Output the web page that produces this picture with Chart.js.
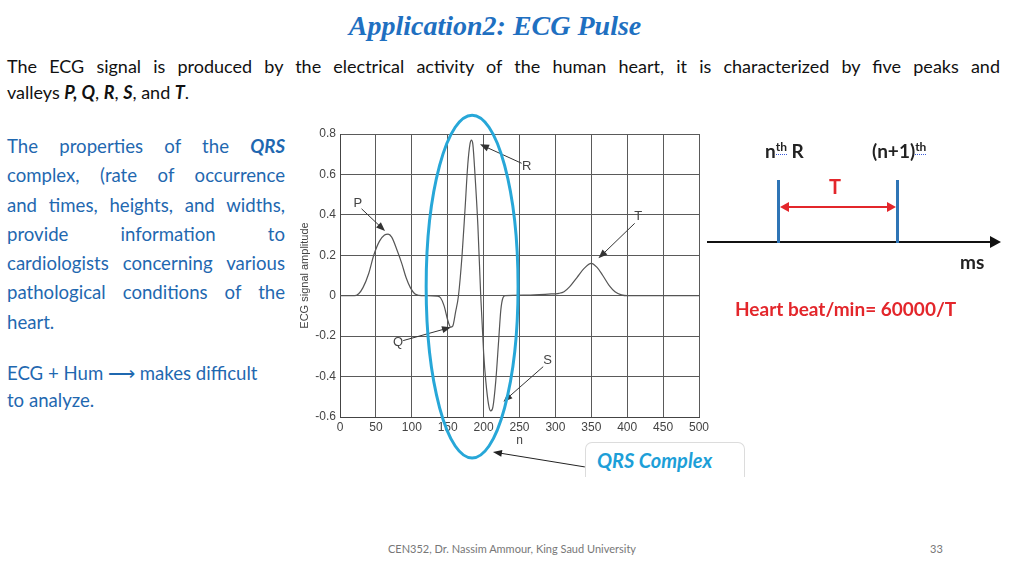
<!DOCTYPE html>
<html>
<head>
<meta charset="utf-8">
<script src="https://cdn.jsdelivr.net/npm/chart.js@4"></script>
<style>
  body { margin: 0; background: #fff; }
  #slide { position: relative; width: 1024px; height: 575px; overflow: hidden; font-family: Lato, "Open Sans", sans-serif; }
  .abs { position: absolute; }
  #title { left: 0; width: 990px; top: 10px; text-align: center; font-family: "Liberation Serif", serif; font-style: italic; font-weight: bold; font-size: 28px; color: #1f70c1; }
  .intro { left: 7px; width: 993px; font-size: 18px; color: #111; line-height: 26px; }
  .jl { text-align: justify; text-align-last: justify; }
  #props { left: 7px; top: 132px; width: 278px; font-size: 18.6px; line-height: 29.3px; color: #1f68b0; }
  #hum { left: 7px; top: 360px; width: 300px; font-size: 18.6px; line-height: 27px; color: #1f68b0; }
  #qrsBox { left: 585px; top: 442px; width: 158px; height: 34px; border: 1px solid #dcdcdc; border-bottom: none; border-radius: 7px 7px 0 0; background: #fff; }
  #qrsText { left: 597px; top: 448px; font-size: 20px; font-weight: bold; font-style: italic; color: #1d9fd8; }
  .dlab { font-size: 19px; font-weight: bold; color: #222; }
  .dlab sup { font-size: 12px; border-bottom: 1px dotted #3b5bd6; }
  #footer { left: 0; width: 1024px; top: 542px; text-align: center; font-size: 11px; color: #777; }
  #pageNo { left: 930px; top: 542px; font-size: 11px; color: #777; }
</style>
</head>
<body>
<div id="slide">
  <div id="title" class="abs">Application2: ECG Pulse</div>
  <div class="abs intro jl" style="top:53px">The ECG signal is produced by the electrical activity of the human heart, it is characterized by five peaks and</div>
  <div class="abs intro" style="top:79px">valleys <b><i>P, Q</i></b>, <b><i>R</i></b>, <b><i>S</i></b>, and <b><i>T</i></b>.</div>

  <div id="props" class="abs">
    <div class="jl">The properties of the <b><i>QRS</i></b></div>
    <div class="jl">complex, (rate of occurrence</div>
    <div class="jl">and times, heights, and widths,</div>
    <div class="jl">provide information to</div>
    <div class="jl">cardiologists concerning various</div>
    <div class="jl">pathological conditions of the</div>
    <div>heart.</div>
  </div>
  <div id="hum" class="abs">ECG + Hum &#x27F6; makes difficult<br>to analyze.</div>

  <canvas id="ecgChart" class="abs" width="430" height="390" style="left:290px;top:100px"></canvas>

  <div id="qrsBox" class="abs"></div>
  <div id="qrsText" class="abs">QRS Complex</div>

  <!-- R-R interval diagram -->
  <div class="abs" style="left:707px;top:241px;width:287px;height:2px;background:#111"></div>
  <div class="abs" style="left:990px;top:236px;width:0;height:0;border-top:6px solid transparent;border-bottom:6px solid transparent;border-left:11px solid #111"></div>
  <div class="abs" style="left:777px;top:180px;width:3px;height:63px;background:#2e75b6"></div>
  <div class="abs" style="left:896px;top:180px;width:3px;height:63px;background:#2e75b6"></div>
  <div class="abs" style="left:786px;top:206px;width:104px;height:2px;background:#e3262b"></div>
  <div class="abs" style="left:780px;top:202px;width:0;height:0;border-top:5px solid transparent;border-bottom:5px solid transparent;border-right:9px solid #e3262b"></div>
  <div class="abs" style="left:887px;top:202px;width:0;height:0;border-top:5px solid transparent;border-bottom:5px solid transparent;border-left:9px solid #e3262b"></div>
  <div class="abs" style="left:829px;top:174px;font-size:20px;font-weight:bold;color:#e3262b">T</div>
  <div class="abs dlab" style="left:765px;top:139px">n<sup>th</sup> R</div>
  <div class="abs dlab" style="left:872px;top:139px">(n+1)<sup>th</sup></div>
  <div class="abs dlab" style="left:960px;top:250px">ms</div>
  <div class="abs" style="left:735px;top:297px;font-size:19px;font-weight:bold;color:#e3262b">Heart beat/min= 60000/T</div>

  <div id="footer" class="abs">CEN352, Dr. Nassim Ammour, King Saud University</div>
  <div id="pageNo" class="abs">33</div>
</div>

<script>
// ECG pulse samples (sample index n -> amplitude)
const nSamples = [0, 20, 26, 32, 40, 47, 55, 62, 67, 72, 80, 86, 92, 98, 104, 110, 120,
  135, 140, 145, 150, 154, 157, 161, 165, 170, 174, 178, 181, 183, 185, 188, 192, 196,
  200, 203, 207, 210, 213, 217, 221, 224, 227, 230, 260, 290, 305, 312, 320, 330, 340,
  350, 358, 366, 375, 383, 392, 400, 500];
const ecgAmplitude = [0, 0, 0.01, 0.04, 0.11, 0.2, 0.27, 0.3, 0.305, 0.29, 0.22, 0.16, 0.09, 0.04, 0.01, 0.002, 0,
  -0.002, -0.01, -0.05, -0.12, -0.155, -0.15, -0.08, 0, 0.2, 0.42, 0.65, 0.75, 0.77, 0.75, 0.6, 0.35, 0,
  -0.28, -0.42, -0.54, -0.57, -0.55, -0.42, -0.22, -0.07, -0.01, 0, 0.003, 0.008, 0.012, 0.02, 0.045, 0.09, 0.135,
  0.16, 0.14, 0.1, 0.05, 0.02, 0.004, 0, 0];

const xTicks = { min: 0, max: 500, step: 50 };
const yTicks = { min: -0.6, max: 0.8, step: 0.2 };

// wave labels: text, label anchor, arrow tail and tip (in data units)
const waveLabels = ['P', 'Q', 'R', 'S', 'T'];
const labelAt = [[25, 0.457], [81, -0.23], [260, 0.638], [289, -0.318], [415.5, 0.39]];
const arrowFrom = [[30, 0.43], [88, -0.222], [253, 0.655], [283, -0.351], [410.4, 0.358]];
const arrowTo = [[62.7, 0.32], [154.6, -0.156], [195, 0.749], [227.6, -0.524], [360, 0.185]];

// QRS highlight ellipse (center, radii) and pointer to the caption box
const qrsCenter = [184, 0.045];
const qrsRadius = [64, 0.848];
const qrsPointer = [[341, -0.847], [213, -0.773]];

function drawArrow(ctx, x1, y1, x2, y2, color) {
    const ang = Math.atan2(y2 - y1, x2 - x1);
    const len = 9, half = 3.5;
    ctx.save();
    ctx.strokeStyle = color;
    ctx.fillStyle = color;
    ctx.lineWidth = 1;
    ctx.beginPath();
    ctx.moveTo(x1, y1);
    ctx.lineTo(x2 - Math.cos(ang) * len * 0.8, y2 - Math.sin(ang) * len * 0.8);
    ctx.stroke();
    ctx.beginPath();
    ctx.moveTo(x2, y2);
    ctx.lineTo(x2 - Math.cos(ang) * len - Math.sin(ang) * half, y2 - Math.sin(ang) * len + Math.cos(ang) * half);
    ctx.lineTo(x2 - Math.cos(ang) * len + Math.sin(ang) * half, y2 - Math.sin(ang) * len - Math.cos(ang) * half);
    ctx.closePath();
    ctx.fill();
    ctx.restore();
}

const annotationsPlugin = {
    id: 'ecgAnnotations',
    afterDraw(chart) {
        const ctx = chart.ctx;
        const xs = chart.scales.x, ys = chart.scales.y;
        const px = v => xs.getPixelForValue(v);
        const py = v => ys.getPixelForValue(v);

        ctx.save();
        ctx.font = '13px "Liberation Sans", Arial, sans-serif';
        ctx.fillStyle = '#444';
        ctx.textAlign = 'center';
        ctx.textBaseline = 'middle';
        waveLabels.forEach((t, i) => {
            ctx.fillText(t, px(labelAt[i][0]), py(labelAt[i][1]));
            drawArrow(ctx, px(arrowFrom[i][0]), py(arrowFrom[i][1]), px(arrowTo[i][0]), py(arrowTo[i][1]), '#333');
        });

        // QRS ellipse
        const cx = px(qrsCenter[0]), cy = py(qrsCenter[1]);
        const rx = px(qrsCenter[0] + qrsRadius[0]) - cx;
        const ry = cy - py(qrsCenter[1] + qrsRadius[1]);
        ctx.strokeStyle = '#27a7d8';
        ctx.lineWidth = 3;
        ctx.beginPath();
        ctx.ellipse(cx, cy, rx, ry, 0, 0, Math.PI * 2);
        ctx.stroke();

        drawArrow(ctx, px(qrsPointer[0][0]), py(qrsPointer[0][1]), px(qrsPointer[1][0]), py(qrsPointer[1][1]), '#222');
        ctx.restore();
    }
};

const tickFont = { family: '"Liberation Sans", Arial, sans-serif', size: 12 };

new Chart(document.getElementById('ecgChart'), {
    type: 'line',
    data: {
        datasets: [{
            data: nSamples.map((n, i) => ({ x: n, y: ecgAmplitude[i] })),
            borderColor: '#555',
            borderWidth: 1.2,
            pointRadius: 0,
            cubicInterpolationMode: 'monotone',
            fill: false
        }]
    },
    options: {
        responsive: false,
        animation: false,
        devicePixelRatio: 1,
        layout: { padding: { top: 34, right: 21, bottom: 35, left: 0 } },
        plugins: { legend: { display: false }, tooltip: { enabled: false } },
        scales: {
            x: {
                type: 'linear',
                min: xTicks.min, max: xTicks.max,
                afterFit: s => { s.height = 38; },
                ticks: { stepSize: xTicks.step, color: '#444', font: tickFont, padding: 3, maxRotation: 0 },
                grid: { color: '#5a5a5a', lineWidth: 1, drawTicks: false },
                border: { color: '#444' },
                title: { display: true, text: 'n', color: '#444', font: tickFont, padding: { top: 0, bottom: 7 } }
            },
            y: {
                min: yTicks.min, max: yTicks.max,
                afterFit: s => { s.width = 50; },
                ticks: { stepSize: yTicks.step, color: '#444', font: tickFont, padding: 4,
                    callback: v => String(Math.round(v * 10) / 10) },
                grid: { color: '#5a5a5a', lineWidth: 1, drawTicks: false },
                border: { color: '#444' },
                title: { display: true, text: 'ECG signal amplitude', color: '#444',
                    font: { family: tickFont.family, size: 11 }, padding: { top: 8, bottom: 0 } }
            }
        }
    },
    plugins: [annotationsPlugin]
});
</script>
</body>
</html>
